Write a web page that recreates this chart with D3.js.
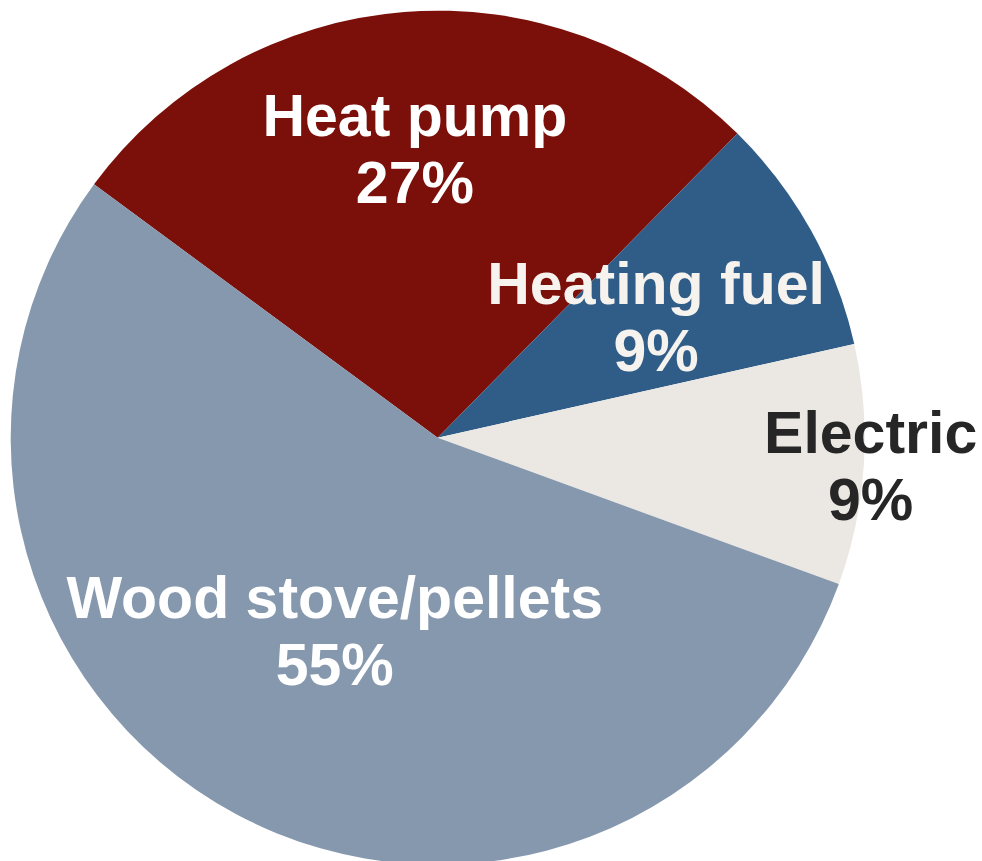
<!DOCTYPE html>
<html>
<head>
<meta charset="utf-8">
<script src="https://cdn.jsdelivr.net/npm/d3@7"></script>
<style>
  html, body { margin: 0; padding: 0; background: #ffffff; }
  svg { display: block; }
</style>
</head>
<body>
<svg id="chart" width="982" height="861"></svg>
<script>
// Data
const categories = ["Heat pump", "Heating fuel", "Electric", "Wood stove/pellets"];
const counts = [3, 1, 1, 6];
const percentLabels = ["27%", "9%", "9%", "55%"];

// Styles
const colors = ["#7b0f0a", "#2f5d87", "#ebe8e3", "#8698ae"];
const textColors = ["#ffffff", "#f6f3ef", "#262626", "#ffffff"];
const labelRadiusFrac = [0.68, 0.585, 1.016, 0.51];

const width = 982, height = 861;
const cx = 437.7, cy = 437.7, R = 427;
const startDeg = -53.6;

const svg = d3.select("#chart");
const g = svg.append("g").attr("transform", `translate(${cx},${cy})`);

const data = categories.map((c, i) => ({ name: c, value: counts[i], pct: percentLabels[i], i }));

const pie = d3.pie()
  .value(d => d.value)
  .sort(null)
  .startAngle(startDeg * Math.PI / 180)
  .endAngle(startDeg * Math.PI / 180 + 2 * Math.PI);

const arcs = pie(data);
const arc = d3.arc().innerRadius(0).outerRadius(R);

g.selectAll("path.slice")
  .data(arcs)
  .join("path")
  .attr("class", "slice")
  .attr("d", arc)
  .attr("fill", d => colors[d.data.i]);

const fontSize = 59;
const labels = g.selectAll("g.label")
  .data(arcs)
  .join("g")
  .attr("class", "label")
  .attr("transform", d => {
    const r = R * labelRadiusFrac[d.data.i];
    const a = (d.startAngle + d.endAngle) / 2;
    return `translate(${r * Math.sin(a)},${-r * Math.cos(a)})`;
  });

labels.append("text")
  .attr("text-anchor", "middle")
  .attr("y", -12)
  .attr("font-family", "'Liberation Sans', Arial, sans-serif")
  .attr("font-weight", "bold")
  .attr("font-size", fontSize)
  .attr("fill", d => textColors[d.data.i])
  .text(d => d.data.name);

labels.append("text")
  .attr("text-anchor", "middle")
  .attr("y", 55)
  .attr("font-family", "'Liberation Sans', Arial, sans-serif")
  .attr("font-weight", "bold")
  .attr("font-size", fontSize)
  .attr("fill", d => textColors[d.data.i])
  .text(d => d.data.pct);
</script>
</body>
</html>
